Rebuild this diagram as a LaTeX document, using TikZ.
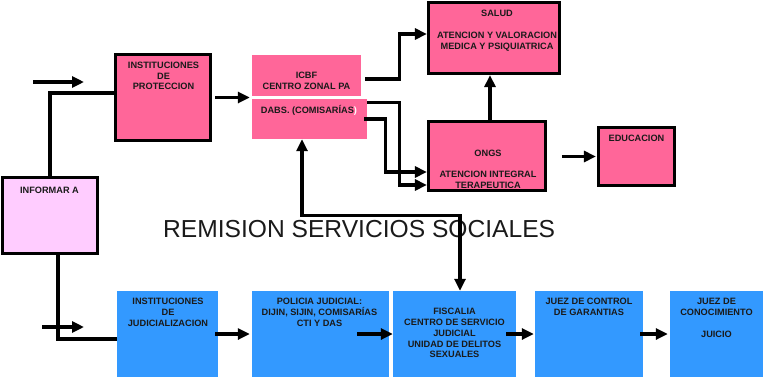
\documentclass[tikz,border=0pt]{standalone}
\usepackage{fontspec}
\setmainfont{Liberation Sans}
\usetikzlibrary{arrows.meta}
\definecolor{hpink}{HTML}{FF6699}
\definecolor{lpink}{HTML}{FFCCFF}
\definecolor{bblue}{HTML}{3399FF}
\definecolor{txt}{HTML}{1A1A1A}
\begin{document}
\begin{tikzpicture}[x=1pt,y=-1pt,
  bordbox/.style={draw=black, line width=3.2pt, inner sep=0pt},
  flatbox/.style={draw=none, inner sep=0pt},
  lbl/.style={anchor=north, inner sep=0pt, align=center, text=txt,
    font=\fontsize{9.2}{10.7}\selectfont\bfseries},
  conn/.style={line width=3.2pt, draw=black},
  arr/.style={conn, -{Triangle[length=12pt,width=11pt]}},
  darr/.style={conn, {Triangle[length=12pt,width=11pt]}-{Triangle[length=12pt,width=11pt]}}]
\useasboundingbox (0,0) rectangle (763,381);

% boxes
\node[bordbox, fill=lpink, minimum width=95pt, minimum height=76pt] (inf) at (50,215.5) {};
\node[bordbox, fill=hpink, minimum width=95pt, minimum height=86pt] (prot) at (163,97.5) {};
\node[flatbox, fill=hpink, minimum width=109pt, minimum height=41pt] (icbf) at (306.5,75.5) {};
\node[flatbox, fill=hpink, minimum width=115pt, minimum height=40pt] (dabs) at (309.5,119) {};
\node[bordbox, fill=hpink, minimum width=131pt, minimum height=71pt] (salud) at (494,38) {};
\node[bordbox, fill=hpink, minimum width=117pt, minimum height=69pt] (ongs) at (487,156) {};
\node[bordbox, fill=hpink, minimum width=76pt, minimum height=58pt] (edu) at (636.5,156.5) {};
\node[flatbox, fill=bblue, minimum width=101pt, minimum height=86pt] (judi) at (167.5,334) {};
\node[flatbox, fill=bblue, minimum width=137pt, minimum height=86pt] (poli) at (320.5,334) {};
\node[flatbox, fill=bblue, minimum width=123pt, minimum height=86pt] (fisc) at (454.5,334) {};
\node[flatbox, fill=bblue, minimum width=108pt, minimum height=86pt] (jcg) at (589,334) {};
\node[flatbox, fill=bblue, minimum width=93pt, minimum height=86pt] (jcon) at (716.5,334) {};

% labels
\node[lbl] (infT) at (49.5,186.7) {INFORMAR A};
\node[lbl] (protT) at (163.5,61.7) {INSTITUCIONES\\DE\\PROTECCION};
\node[lbl, font=\fontsize{9.2}{11.6}\selectfont\bfseries] (icbfT) at (306.5,71.7) {ICBF\\CENTRO ZONAL PA};
\node[lbl, anchor=base] (dabsT) at (309,113.3) {DABS. (COMISARÍAS\textcolor{white}{)}};
\node[lbl] (saludT) at (497,10) {SALUD\\[11pt]ATENCION Y VALORACION\\MEDICA Y PSIQUIATRICA};
\node[lbl] (ongsT) at (488,150) {ONGS\\[10pt]ATENCION INTEGRAL\\TERAPEUTICA};
\node[lbl] (eduT) at (636.5,135) {EDUCACION};
\node[lbl] (judiT) at (168,298.3) {INSTITUCIONES\\DE\\JUDICIALIZACION};
\node[lbl] (poliT) at (319.5,298.3) {POLICIA JUDICIAL:\\DIJIN, SIJIN, COMISARÍAS\\CTI Y DAS};
\node[lbl] (fiscT) at (454.5,308.3) {FISCALIA\\CENTRO DE SERVICIO\\JUDICIAL\\UNIDAD DE DELITOS\\SEXUALES};
\node[lbl] (jcgT) at (589,298.3) {JUEZ DE CONTROL\\DE GARANTIAS};
\node[lbl] (jconT) at (716.5,298.3) {JUEZ DE\\CONOCIMIENTO\\[11pt]JUICIO};
\node[anchor=base west, inner sep=0pt, text=txt, font=\fontsize{24.6}{28}\selectfont] (rem) at (163,237.5) {REMISION SERVICIOS SOCIALES};

% free arrows
\coordinate (f1s) at (33,82);
\coordinate (f1e) at (84,82);
\draw[arr] (f1s) -- (f1e);
\coordinate (f2s) at (42,327);
\coordinate (f2e) at (84,327);
\draw[arr] (f2s) -- (f2e);

% connectors
\draw[conn] (inf.north) |- ([yshift=4.5pt]prot.west);
\draw[conn] ([xshift=8pt]inf.south) |- ([yshift=-5pt]judi.west);
\draw[arr] ([xshift=3pt]prot.east) -- ([xshift=-2pt]prot.east -| icbf.west);
\draw[arr] ([xshift=4pt,yshift=-3.5pt]icbf.east) -- ++(34,0) |- ([yshift=4pt]salud.west);
\draw[arr] ([yshift=-4pt]dabs.north east) -- ++(32,0) |- ([yshift=-29pt]ongs.west);
\draw[arr] ([xshift=-3pt]dabs.east) -- ++(21,0) |- ([yshift=-16pt]ongs.west);
\draw[arr] ([xshift=3pt]ongs.north) -- ([xshift=3pt]ongs.north |- salud.south);
\draw[arr] ([xshift=-35pt]edu.west) -- ([xshift=-1pt]edu.west);
\draw[darr] ([xshift=-7.5pt]dabs.south) -- ++(0,76) -| ([xshift=5.5pt]fisc.north);
\draw[arr] ([xshift=-3pt]judi.east) -- ([xshift=-2pt]poli.west);
\draw[arr] ([xshift=-32pt]poli.east) -- (fisc.west);
\draw[arr] ([xshift=-10pt]fisc.east) -- ([xshift=-1pt]jcg.west);
\draw[arr] ([xshift=-3pt]jcg.east) -- ([xshift=-2pt]jcon.west);
\end{tikzpicture}
\end{document}
